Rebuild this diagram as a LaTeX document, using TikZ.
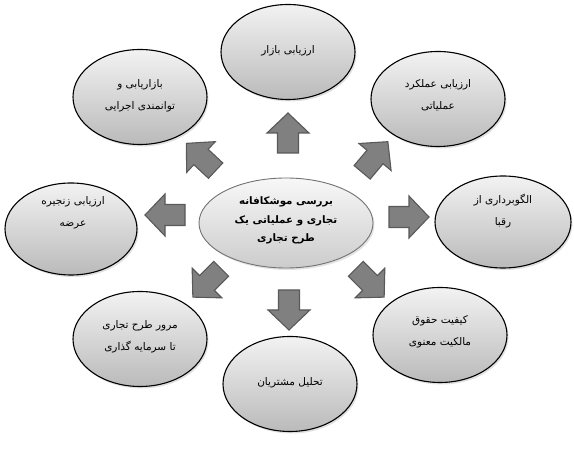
\documentclass[tikz,border=0pt]{standalone}
\usepackage{fontspec}
\newfontfamily\fafont[Script=Arabic]{DejaVu Sans}
\TeXXeTstate=1
\usetikzlibrary{shapes.geometric,shadows}
\newcommand\rl[1]{\beginR #1\endR}
\begin{document}
\begin{tikzpicture}[x=1pt,y=1pt,
  topic/.style={ellipse, draw=black, line width=1.1pt, top color=black!5, bottom color=black!27,
    minimum width=134pt, minimum height=95pt, inner sep=0pt,
    drop shadow={shadow xshift=1.5pt, shadow yshift=-2pt, opacity=0.2, fill=black!60}},
  hub/.style={ellipse, draw=black!55, line width=0.9pt, top color=black!3, bottom color=black!20,
    minimum width=174pt, minimum height=90pt, inner sep=0pt,
    drop shadow={shadow xshift=1.5pt, shadow yshift=-2pt, opacity=0.18, fill=black!60}},
  topictext/.style={align=center, inner sep=0pt, font=\fafont\fontsize{10.5}{22}\selectfont},
  hubtext/.style={align=center, inner sep=0pt, font=\fafont\bfseries\fontsize{10.3}{18.5}\selectfont},
  barrow/.pic={\filldraw[fill=black!50, draw=black!65, line width=1.1pt, line join=miter]
     (-20,-10.5) -- (0,-10.5) -- (0,-21) -- (20,0) -- (0,21) -- (0,10.5) -- (-20,10.5) -- cycle;}
]
\useasboundingbox (0,0) rectangle (574,450);

% ellipses
\node[hub]   (c)  at (286,227) {};
\node[topic] (t)  at (288,398) {};
\node[topic] (tl) at (140,353) {};
\node[topic] (tr) at (438,351) {};
\node[topic, minimum width=132pt, minimum height=92pt] (l)  at (71,221) {};
\node[topic, minimum width=136pt, minimum height=92pt] (r)  at (503,228) {};
\node[topic] (bl) at (140,111) {};
\node[topic] (b)  at (290,66) {};
\node[topic] (br) at (440,115) {};

% texts
\node[hubtext]   (ct)  at ([yshift=2.5]c.center)  {\rl{بررسی موشکافانه}\\\rl{تجاری و عملیاتی یک}\\\rl{طرح تجاری}};
\node[topictext] (tt)  at ([yshift=1]t.center)    {\rl{ارزیابی بازار}};
\node[topictext] (tlt) at ([yshift=1]tl.center)   {\rl{بازاریابی و}\\\rl{توانمندی اجرایی}};
\node[topictext] (trt) at ([yshift=4]tr.center)   {\rl{ارزیابی عملکرد}\\\rl{عملیاتی}};
\node[topictext] (lt)  at ([xshift=2,yshift=16]l.center) {\rl{ارزیابی زنجیره}\\\rl{عرضه}};
\node[topictext] (rt)  at ([yshift=11]r.center)   {\rl{الگوبرداری از}\\\rl{رقبا}};
\node[topictext] (blt) at ([yshift=2]bl.center)   {\rl{مرور طرح تجاری}\\\rl{تا سرمایه گذاری}};
\node[topictext] (bt)  at ([yshift=1]b.center)    {\rl{تحلیل مشتریان}};
\node[topictext] (brt) at ([yshift=3]br.center)   {\rl{کیفیت حقوق}\\\rl{مالکیت معنوی}};

% block arrows
\pic[rotate=90]  (aT)  at (288,317) {barrow};
\pic[rotate=137] (aTL) at (201,293) {barrow};
\pic[rotate=50]  (aTR) at (375,293) {barrow};
\pic[rotate=180] (aL)  at (165,235) {barrow};
\pic[rotate=0]   (aR)  at (409,233) {barrow};
\pic[rotate=225] (aBL) at (207,167) {barrow};
\pic[rotate=270] (aB)  at (289,140) {barrow};
\pic[rotate=315] (aBR) at (370,167) {barrow};
\end{tikzpicture}
\end{document}
